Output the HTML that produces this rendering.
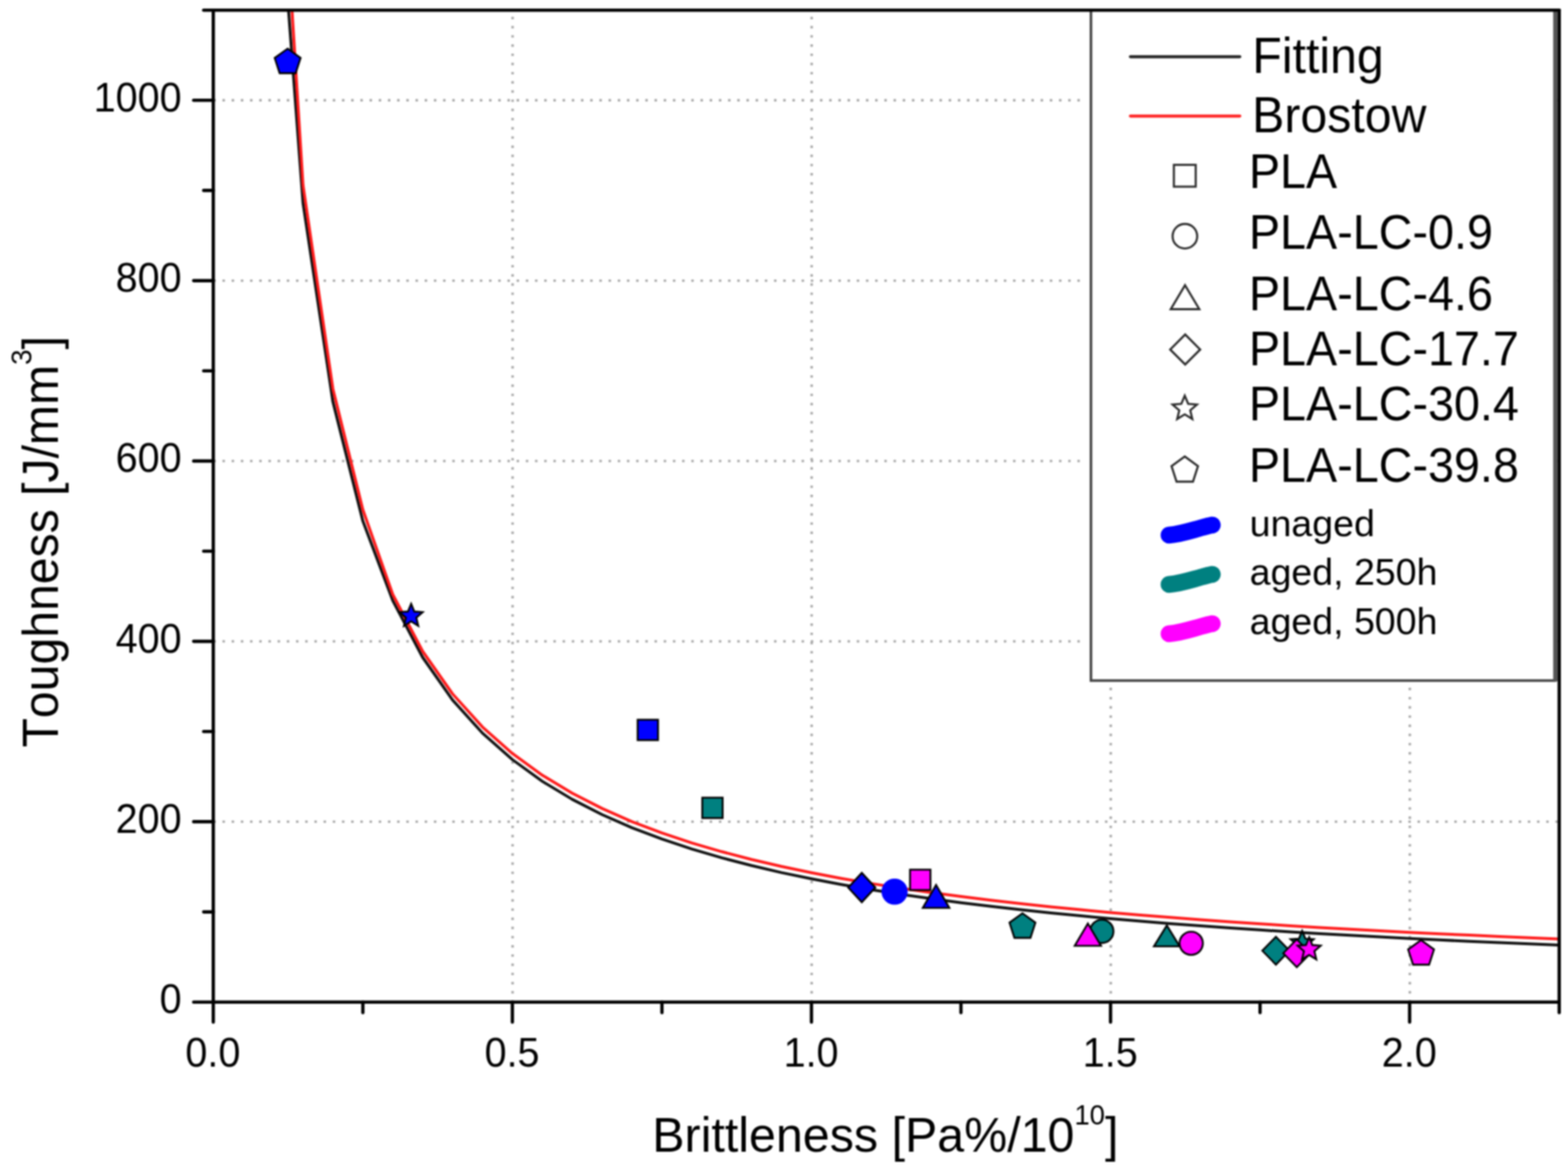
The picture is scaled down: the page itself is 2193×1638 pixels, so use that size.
<!DOCTYPE html>
<html><head><meta charset="utf-8"><title>Toughness vs Brittleness</title>
<style>html,body{margin:0;padding:0;background:#fff;}svg{display:block;filter:blur(0.9px);}</style>
</head><body>
<svg width="2193" height="1638" viewBox="0 0 2193 1638"><rect width="2193" height="1638" fill="#fff"/><g stroke="#a6a6a6" stroke-width="3.4" stroke-dasharray="3.4 9.457"><line x1="298.3" y1="1149.4" x2="2180.7" y2="1149.4" stroke-dashoffset="0"/><line x1="298.3" y1="897.1" x2="2180.7" y2="897.1" stroke-dashoffset="0"/><line x1="298.3" y1="644.9" x2="2180.7" y2="644.9" stroke-dashoffset="0"/><line x1="298.3" y1="392.6" x2="2180.7" y2="392.6" stroke-dashoffset="0"/><line x1="298.3" y1="140.3" x2="2180.7" y2="140.3" stroke-dashoffset="0"/><line x1="716.9" y1="1401.7" x2="716.9" y2="14.2" stroke-dashoffset="0.9"/><line x1="1135.2" y1="1401.7" x2="1135.2" y2="14.2" stroke-dashoffset="0.9"/><line x1="1553.5" y1="1401.7" x2="1553.5" y2="14.2" stroke-dashoffset="0.9"/><line x1="1971.8" y1="1401.7" x2="1971.8" y2="14.2" stroke-dashoffset="0.9"/></g>
<path d="M403.5,14.2 L423.8,284.1 L465.6,562.1 L507.5,728.9 L549.3,840.1 L591.1,919.5 L632.9,979.1 L674.8,1025.5 L716.6,1062.5 L758.4,1092.9 L800.3,1118.1 L842.1,1139.5 L883.9,1157.8 L925.8,1173.7 L967.6,1187.6 L1009.4,1199.9 L1051.2,1210.8 L1093.1,1220.6 L1134.9,1229.3 L1176.7,1237.3 L1218.6,1244.5 L1260.4,1251.1 L1302.2,1257.1 L1344.1,1262.7 L1385.9,1267.8 L1427.7,1272.6 L1469.5,1277.0 L1511.4,1281.1 L1553.2,1284.9 L1595.0,1288.5 L1636.9,1291.9 L1678.7,1295.0 L1720.5,1298.0 L1762.4,1300.8 L1804.2,1303.5 L1846.0,1306.0 L1887.8,1308.3 L1929.7,1310.6 L1971.5,1312.7 L2013.3,1314.8 L2055.2,1316.7 L2097.0,1318.6 L2138.8,1320.3 L2180.7,1322.0 L2180.7,1322.0" fill="none" stroke="#111" stroke-width="4" stroke-linejoin="round"/>
<path d="M408.4,14.2 L423.8,258.9 L465.6,543.9 L507.5,713.0 L549.3,831.5 L591.1,911.0 L632.9,970.5 L674.8,1016.9 L716.6,1053.9 L758.4,1084.3 L800.3,1109.5 L842.1,1130.9 L883.9,1149.3 L925.8,1165.1 L967.6,1179.1 L1009.4,1191.3 L1051.2,1202.2 L1093.1,1212.0 L1134.9,1220.8 L1176.7,1228.7 L1218.6,1235.9 L1260.4,1242.5 L1302.2,1248.6 L1344.1,1254.1 L1385.9,1259.2 L1427.7,1264.0 L1469.5,1268.4 L1511.4,1272.5 L1553.2,1276.4 L1595.0,1279.9 L1636.9,1283.3 L1678.7,1286.5 L1720.5,1289.4 L1762.4,1292.2 L1804.2,1294.9 L1846.0,1297.4 L1887.8,1299.8 L1929.7,1302.0 L1971.5,1304.2 L2013.3,1306.2 L2055.2,1308.1 L2097.0,1310.0 L2138.8,1311.7 L2180.7,1313.4 L2180.7,1313.4" fill="none" stroke="#ff1a1a" stroke-width="4" stroke-linejoin="round"/>
<g fill="#0000ff" stroke="#000" stroke-width="2.6"><rect x="891.8" y="1006.8" width="28.5" height="28.5"/></g>
<g fill="#0000ff" stroke="#0000ff" stroke-width="2.6"><circle cx="1251.2" cy="1247.2" r="17.0"/></g>
<g fill="#0000ff" stroke="#000" stroke-width="2.6"><path d="M1309.2,1237.8 L1327.8,1270.0 L1290.6,1270.0 Z"/></g>
<g fill="#0000ff" stroke="#000" stroke-width="2.6"><path d="M1205.3,1221.0 L1224.3,1241.5 L1205.3,1262.0 L1186.3,1241.5 Z"/></g>
<g fill="#0000ff" stroke="#000" stroke-width="2.6"><path d="M575.0,844.6 L579.5,855.4 L591.2,856.3 L582.3,864.0 L585.0,875.4 L575.0,869.2 L565.0,875.4 L567.7,864.0 L558.8,856.3 L570.5,855.4 Z"/></g>
<g fill="#0000ff" stroke="#000" stroke-width="2.6"><path d="M402.3,68.0 L420.4,81.1 L413.5,102.4 L391.1,102.4 L384.2,81.1 Z"/></g>
<g fill="#008080" stroke="#000" stroke-width="2.6"><rect x="982.2" y="1115.8" width="28.5" height="28.5"/></g>
<g fill="#008080" stroke="#000" stroke-width="2.6"><circle cx="1541.0" cy="1302.8" r="16.3"/></g>
<g fill="#008080" stroke="#000" stroke-width="2.6"><path d="M1631.9,1294.5 L1649.9,1323.7 L1613.9,1323.7 Z"/></g>
<g fill="#008080" stroke="#000" stroke-width="2.6"><path d="M1784.5,1310.3 L1803.5,1329.8 L1784.5,1349.3 L1765.5,1329.8 Z"/></g>
<g fill="#008080" stroke="#000" stroke-width="2.6"><path d="M1821.2,1302.2 L1825.7,1313.0 L1837.4,1313.9 L1828.5,1321.6 L1831.2,1333.0 L1821.2,1326.9 L1811.2,1333.0 L1813.9,1321.6 L1805.0,1313.9 L1816.7,1313.0 Z"/></g>
<g fill="#008080" stroke="#000" stroke-width="2.6"><path d="M1430.0,1277.5 L1448.1,1290.6 L1441.2,1311.9 L1418.8,1311.9 L1411.9,1290.6 Z"/></g>
<g fill="#ff00ff" stroke="#000" stroke-width="2.6"><rect x="1272.8" y="1216.5" width="28.5" height="28.5"/></g>
<g fill="#ff00ff" stroke="#000" stroke-width="2.6"><circle cx="1666.0" cy="1319.5" r="16.3"/></g>
<g fill="#ff00ff" stroke="#000" stroke-width="2.6"><path d="M1521.5,1291.8 L1539.9,1323.0 L1503.1,1323.0 Z"/></g>
<g fill="#ff00ff" stroke="#000" stroke-width="2.6"><path d="M1813.7,1313.9 L1832.7,1333.4 L1813.7,1352.9 L1794.7,1333.4 Z"/></g>
<g fill="#ff00ff" stroke="#000" stroke-width="2.6"><path d="M1831.0,1311.1 L1835.5,1321.9 L1847.2,1322.8 L1838.3,1330.5 L1841.0,1341.9 L1831.0,1335.8 L1821.0,1341.9 L1823.7,1330.5 L1814.8,1322.8 L1826.5,1321.9 Z"/></g>
<g fill="#ff00ff" stroke="#000" stroke-width="2.6"><path d="M1987.5,1315.0 L2005.6,1328.1 L1998.7,1349.4 L1976.3,1349.4 L1969.4,1328.1 Z"/></g>
<rect x="1517" y="14.2" width="12" height="937.8" fill="#fff"/>
<rect x="1525.8" y="14.2" width="649.2" height="937.8" fill="#fff" stroke="#444" stroke-width="3.6"/>
<line x1="2175.4" y1="14.2" x2="2175.4" y2="953.0" stroke="#555" stroke-width="6.2"/>
<line x1="1581" y1="79.3" x2="1734" y2="79.3" stroke="#222" stroke-width="4.2" stroke-linecap="round"/>
<line x1="1581" y1="162.3" x2="1734" y2="162.3" stroke="#ff2020" stroke-width="4.2" stroke-linecap="round"/>
<g fill="none" stroke="#2a2a2a" stroke-width="2.9"><rect x="1641.8" y="230.6" width="30.5" height="30.5"/><circle cx="1657.2" cy="330.4" r="17.2"/><path d="M1657.4,398.9 L1677.4,432.5 L1637.4,432.5 Z"/><path d="M1657.6,467.9 L1678.6,488.9 L1657.6,509.9 L1636.6,488.9 Z"/><path d="M1657.0,553.5 L1661.8,564.9 L1674.1,565.9 L1664.7,574.0 L1667.6,586.1 L1657.0,579.6 L1646.4,586.1 L1649.3,574.0 L1639.9,565.9 L1652.2,564.9 Z"/><path d="M1657.0,638.5 L1675.5,652.0 L1668.5,673.8 L1645.5,673.8 L1638.5,652.0 Z"/></g>
<path d="M1635,748.5 C1652,747.0 1666,742.0 1681,738.0 S1692,735.0 1695.5,734.5" fill="none" stroke="#0000ff" stroke-width="23.5" stroke-linecap="round"/>
<path d="M1635,817.5 C1652,816.0 1666,811.0 1681,807.0 S1692,804.0 1695.5,803.5" fill="none" stroke="#008080" stroke-width="23.5" stroke-linecap="round"/>
<path d="M1635,886.5 C1652,885.0 1666,880.0 1681,876.0 S1692,873.0 1695.5,872.5" fill="none" stroke="#ff00ff" stroke-width="23.5" stroke-linecap="round"/>
<g font-family="'Liberation Sans', Arial, Helvetica, sans-serif" fill="#000"><text x="1751.5" y="102.0" font-size="67" transform="translate(1751.5,102.0) scale(1.007,1.045) translate(-1751.5,-102.0)">Fitting</text><text x="1751.3" y="185.0" font-size="67" transform="translate(1751.3,185.0) scale(1.007,1.045) translate(-1751.3,-185.0)">Brostow</text><text x="1746.7" y="262.6" font-size="67" transform="translate(1746.7,262.6) scale(0.975,1.035) translate(-1746.7,-262.6)">PLA</text><text x="1746.7" y="347.6" font-size="67" transform="translate(1746.7,347.6) scale(0.975,1.035) translate(-1746.7,-347.6)">PLA-LC-0.9</text><text x="1746.7" y="433.6" font-size="67" transform="translate(1746.7,433.6) scale(0.975,1.035) translate(-1746.7,-433.6)">PLA-LC-4.6</text><text x="1746.7" y="511.1" font-size="67" transform="translate(1746.7,511.1) scale(0.975,1.035) translate(-1746.7,-511.1)">PLA-LC-17.7</text><text x="1746.7" y="587.6" font-size="67" transform="translate(1746.7,587.6) scale(0.975,1.035) translate(-1746.7,-587.6)">PLA-LC-30.4</text><text x="1746.7" y="674.1" font-size="67" transform="translate(1746.7,674.1) scale(0.975,1.035) translate(-1746.7,-674.1)">PLA-LC-39.8</text><text x="1747.7" y="749.5" font-size="52.5">unaged</text><text x="1747.7" y="818.4" font-size="52.5">aged, 250h</text><text x="1747.7" y="887" font-size="52.5">aged, 500h</text></g>
<g stroke="#000" stroke-width="4.6" stroke-linecap="round"><line x1="298.3" y1="14.2" x2="298.3" y2="1401.7"/><line x1="298.3" y1="1401.7" x2="2180.7" y2="1401.7"/><line x1="2180.7" y1="14.2" x2="2180.7" y2="1401.7"/><line x1="298.3" y1="14.2" x2="2180.7" y2="14.2"/><line x1="270.8" y1="1401.7" x2="298.3" y2="1401.7"/><line x1="284.8" y1="1275.6" x2="298.3" y2="1275.6"/><line x1="270.8" y1="1149.4" x2="298.3" y2="1149.4"/><line x1="284.8" y1="1023.3" x2="298.3" y2="1023.3"/><line x1="270.8" y1="897.1" x2="298.3" y2="897.1"/><line x1="284.8" y1="771.0" x2="298.3" y2="771.0"/><line x1="270.8" y1="644.9" x2="298.3" y2="644.9"/><line x1="284.8" y1="518.7" x2="298.3" y2="518.7"/><line x1="270.8" y1="392.6" x2="298.3" y2="392.6"/><line x1="284.8" y1="266.4" x2="298.3" y2="266.4"/><line x1="270.8" y1="140.3" x2="298.3" y2="140.3"/><line x1="284.8" y1="14.2" x2="298.3" y2="14.2"/><line x1="298.3" y1="1401.7" x2="298.3" y2="1429.7"/><line x1="507.5" y1="1401.7" x2="507.5" y2="1416.5"/><line x1="716.6" y1="1401.7" x2="716.6" y2="1429.7"/><line x1="925.8" y1="1401.7" x2="925.8" y2="1416.5"/><line x1="1134.9" y1="1401.7" x2="1134.9" y2="1429.7"/><line x1="1344.0" y1="1401.7" x2="1344.0" y2="1416.5"/><line x1="1553.2" y1="1401.7" x2="1553.2" y2="1429.7"/><line x1="1762.3" y1="1401.7" x2="1762.3" y2="1416.5"/><line x1="1971.5" y1="1401.7" x2="1971.5" y2="1429.7"/><line x1="2180.7" y1="1401.7" x2="2180.7" y2="1416.5"/></g>
<g font-family="'Liberation Sans', Arial, Helvetica, sans-serif" font-size="57" fill="#000"><text x="254" y="1417.3" text-anchor="end" transform="translate(254,0) scale(0.97,1) translate(-254,0)">0</text><text x="254" y="1165.0" text-anchor="end" transform="translate(254,0) scale(0.97,1) translate(-254,0)">200</text><text x="254" y="912.7" text-anchor="end" transform="translate(254,0) scale(0.97,1) translate(-254,0)">400</text><text x="254" y="660.5" text-anchor="end" transform="translate(254,0) scale(0.97,1) translate(-254,0)">600</text><text x="254" y="408.2" text-anchor="end" transform="translate(254,0) scale(0.97,1) translate(-254,0)">800</text><text x="254" y="155.9" text-anchor="end" transform="translate(254,0) scale(0.97,1) translate(-254,0)">1000</text><text x="297.8" y="1491.7" text-anchor="middle" transform="translate(297.8,0) scale(0.97,1) translate(-297.8,0)">0.0</text><text x="716.1" y="1491.7" text-anchor="middle" transform="translate(716.1,0) scale(0.97,1) translate(-716.1,0)">0.5</text><text x="1134.4" y="1491.7" text-anchor="middle" transform="translate(1134.4,0) scale(0.97,1) translate(-1134.4,0)">1.0</text><text x="1552.7" y="1491.7" text-anchor="middle" transform="translate(1552.7,0) scale(0.97,1) translate(-1552.7,0)">1.5</text><text x="1971.0" y="1491.7" text-anchor="middle" transform="translate(1971.0,0) scale(0.97,1) translate(-1971.0,0)">2.0</text></g>
<text x="912.3" y="1610.8" font-family="'Liberation Sans', Arial, Helvetica, sans-serif" font-size="67" fill="#000" transform="translate(918,1610.8) scale(1.01,1.037) translate(-918,-1610.8)">Brittleness [Pa%/10<tspan font-size="38" dy="-36">10</tspan><tspan dy="36">]</tspan></text>
<text transform="translate(81.2,1045.5) rotate(-90) scale(1.005,1.04)" font-family="'Liberation Sans', Arial, Helvetica, sans-serif" font-size="67" fill="#000" style="font-kerning:none">Toughness [J/mm<tspan font-size="39" dy="-36">3</tspan><tspan dy="36">]</tspan></text></svg>
</body></html>
